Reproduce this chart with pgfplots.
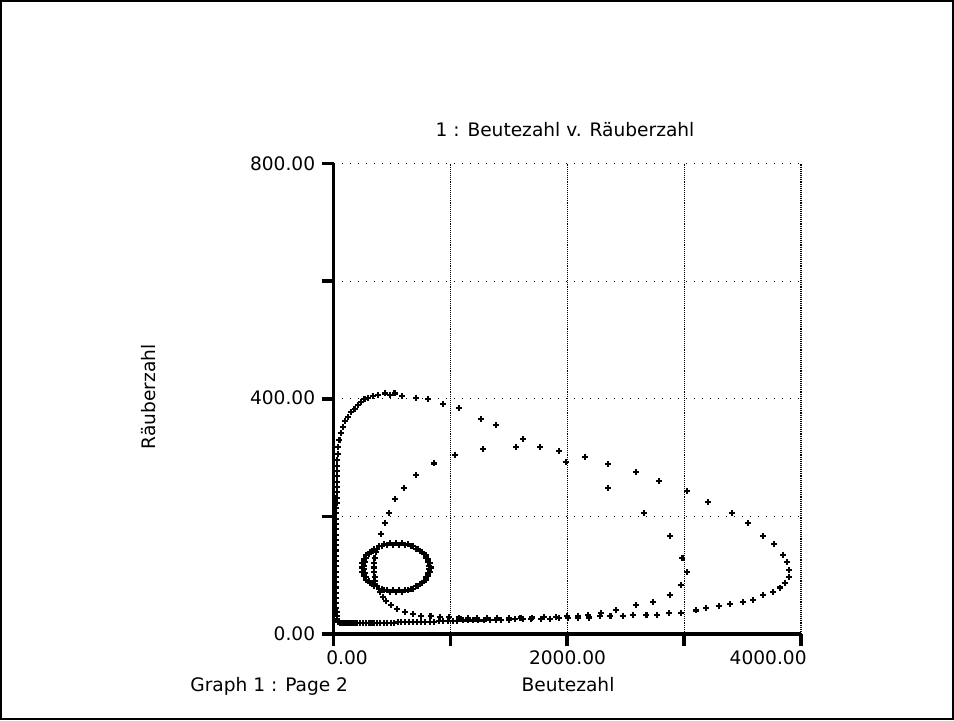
\documentclass[border=0pt]{standalone}
\usepackage{fontspec}
\setmainfont{DejaVu Sans}
\usepackage{pgfplots}
\pgfplotsset{compat=1.18}
\newcommand\gf{\fontsize{9.3pt}{11pt}\selectfont}
\pgfplotsset{traj/.style={only marks, mark=+, mark size=1.5pt, mark options={line width=1.05pt, black}}}
\begin{document}
\begin{tikzpicture}[font=\gf]
\useasboundingbox (0,0) rectangle (477pt,360pt);
\draw[line width=1pt] (0.5pt,0.5pt) rectangle (476.5pt,359.5pt);
\begin{axis}[
  at={(166.75pt,43pt)}, anchor=south west,
  scale only axis, width=233.75pt, height=235.25pt,
  xmin=0, xmax=4000, ymin=0, ymax=800,
  axis lines*=left,
  axis line style={line width=1.8pt},
  xtick={0,1000,2000,3000,4000}, ytick={0,200,400,600,800},
  xticklabels={}, yticklabels={},
  tick align=outside, major tick length=6pt,
  tick style={line width=1.8pt, black},
  grid=major,
  x grid style={black, line width=0.55pt, dash pattern=on 0.55pt off 0.5pt},
  y grid style={black, line width=0.6pt, dash pattern=on 0.6pt off 3.4pt},
  clip=false,
]
% outer orbit
\addplot[traj] coordinates {
(40,20)(55,19)(70,18)(85,18)(100,18)(120,18)(140,18)(160,18)(180,18)(200,18)(225,18)(250,18)(275,18)(300,18)(325,19)(350,19)(375,19)(400,19)(430,19)(460,19)(490,19)(520,19)(550,20)(580,20)(610,20)(645,20)(680,20)(715,21)(750,21)(785,21)(822,21)(860,21)(900,22)(940,22)(980,22)(1020,22)(1060,22)(1105,23)(1150,23)(1195,23)(1240,23)(1290,23)(1340,24)(1390,24)(1436,24)(1501,24)(1550,25)(1621,25)(1693,25)(1778,26)(1856,26)(1929,27)(2006,27)(2092,28)(2186,28)(2278,30)(2370,30)(2478,30)(2564,33)(2678,33)(2770,33)(2873,36)(2970,36)(3101,40)(3186,44)(3295,48)(3392,51)(3501,54)(3592,58)(3677,66)(3757,72)(3820,79)(3866,87)(3897,97)(3897,109)(3880,122)(3846,134)(3769,153)(3674,166)(3546,189)(3409,206)(3203,224)(3024,243)(2784,260)(2587,275)(2347,289)(2150,301)(1930,311)(1764,318)(1622,332)(1388,355)(1259,365)(1071,384)(937,391)(808,400)(708,402)(585,405)(522,409)(480,407)(437,409)(380,406)(340,404)(294,402)(265,399)(237,395)(210,390)(180,383)(150,377)(123,369)(100,362)(80,352)(62,342)(51,330)(42,318)(36,306)
(33,296)(31,286)(30,277)(29,268)(28,259)(27,250)(27,241)(26,232)(26,223)(25,214)(25,205)(25,196)(25,187)(24,178)(24,169)(24,160)(24,151)(24,142)(24,133)(24,124)(24,115)(24,106)(24,97)(24,88)(24,79)(24,70)(24,61)(24,52)(25,44)(26,37)(28,31)(31,26)(35,22)
};
% tail and second orbit
\addplot[traj] coordinates {
(394,72)(420,63)(450,56)(494,49)(545,43)(608,38)(680,34)(751,31)(830,30)(910,29)(990,29)(1070,28)(1150,27)(1230,27)(1310,27)(1400,27)(1500,27)(1600,28)(1700,28)(1800,29)(1900,29)(2000,30)(2090,31)(2180,32)(2290,35)(2415,41)(2587,49)(2735,54)(2878,66)(2970,84)(3026,105)(2986,130)(2878,166)(2655,206)(2350,249)(1987,293)(1565,318)(1276,314)(1036,304)(857,290)(708,271)(603,249)(528,229)(471,206)(437,188)(403,170)(360,140)(351,129)(350,121)(350,113)(350,105)(351,97)(353,90)
};
% small loop, outer ring
\addplot[traj] coordinates {
(830,113)(826,120)(812,127)(791,134)(761,140)(725,145)(683,149)(636,153)(586,154)(535,155)(484,154)(434,153)(388,149)(345,145)(309,140)(280,134)(258,127)(244,120)(240,113)(244,106)(258,99)(280,92)(309,86)(345,81)(388,77)(434,74)(484,72)(535,71)(586,72)(636,74)(683,77)(725,81)(761,86)(791,92)(812,99)(826,106)
};
% small loop, inner ring
\addplot[traj] coordinates {
(818,116)(810,123)(795,129)(773,136)(742,141)(705,145)(661,149)(613,151)(562,152)(510,152)(460,151)(413,149)(371,145)(334,141)(304,136)(281,129)(266,123)(258,116)(258,110)(266,103)(281,97)(304,90)(334,85)(371,81)(413,77)(460,75)(510,74)(562,74)(613,75)(661,77)(705,81)(742,85)(773,90)(795,97)(810,103)(818,110)
};
\end{axis}
% texts
\node[anchor=north, inner sep=0pt] at (282.5pt,299pt) {1 : Beutezahl v. Räuberzahl};
\node[rotate=90, inner sep=0pt] at (74.5pt,161.5pt) {Räuberzahl};
\node[anchor=north, inner sep=0pt] at (284pt,21.5pt) {Beutezahl};
\node[anchor=north west, inner sep=0pt] at (95pt,21.5pt) {Graph 1 : Page 2};
\node[anchor=north west, inner sep=0pt] at (163pt,35pt) {0.00};
\node[anchor=north, inner sep=0pt] at (283.75pt,35pt) {2000.00};
\node[anchor=north east, inner sep=0pt] at (403.5pt,35pt) {4000.00};
\node[anchor=east, inner sep=0pt] at (157.75pt,278pt) {800.00};
\node[anchor=east, inner sep=0pt] at (157.75pt,161pt) {400.00};
\node[anchor=east, inner sep=0pt] at (157.75pt,43pt) {0.00};
\end{tikzpicture}
\end{document}
